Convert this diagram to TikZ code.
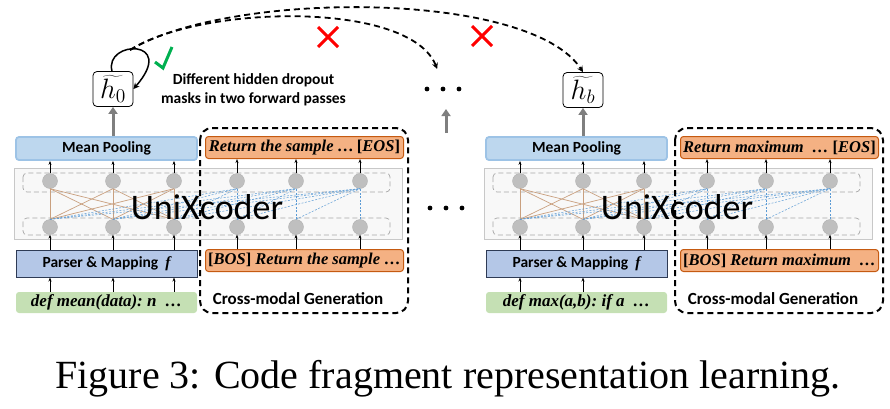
\documentclass[tikz,border=0pt]{standalone}
\usepackage{graphicx}
\usepackage{fontspec}
\setmainfont{Carlito}
\newfontfamily\capfont{Liberation Serif}
\newfontfamily\codefont{Liberation Serif}
\newcommand\tok[1]{{\upshape[}#1{\upshape]}}
\usetikzlibrary{arrows.meta,shapes.misc}
\definecolor{mpfill}{HTML}{BDD7EE}
\definecolor{mpline}{HTML}{9DC3E6}
\definecolor{orfill}{HTML}{F4B183}
\definecolor{orline}{HTML}{C55A11}
\definecolor{psfill}{HTML}{B4C7E7}
\definecolor{psline}{HTML}{2E3B55}
\definecolor{cdfill}{HTML}{C5E0B4}
\definecolor{encfill}{HTML}{F8F8F8}
\definecolor{encline}{HTML}{C8C8C8}
\definecolor{laygray}{HTML}{A6A6A6}
\definecolor{neufill}{HTML}{BFBFBF}
\definecolor{brownline}{HTML}{C9A07F}
\definecolor{blueline}{HTML}{5B9BD5}
\definecolor{poolgray}{HTML}{7F7F7F}
\definecolor{okgreen}{HTML}{00B050}
\begin{document}
\begin{tikzpicture}[x=1pt,y=-1pt,
  every node/.style={inner sep=0pt},
  tip/.style={-{Stealth[length=4pt,width=3pt]},line width=0.6pt},
  poolbox/.style={draw=mpline,fill=mpfill,line width=1.8pt,rounded corners=3pt,minimum width=181pt,minimum height=23pt,font=\fontsize{15.5}{18}\selectfont\bfseries},
  tokbox/.style={draw=orline,fill=orfill,line width=1pt,rounded corners=3pt,minimum width=198pt,minimum height=22pt,font=\codefont\fontsize{16.5}{18}\selectfont\bfseries\itshape},
  parsebox/.style={draw=psline,fill=psfill,line width=1pt,minimum width=181pt,minimum height=27pt,font=\fontsize{15.5}{18}\selectfont\bfseries},
  codebox/.style={fill=cdfill,rounded corners=3pt,minimum width=181pt,minimum height=21pt,font=\codefont\fontsize{17}{18}\selectfont\bfseries\itshape},
  encbox/.style={draw=encline,fill=encfill,line width=0.8pt,minimum width=388pt,minimum height=71pt},
  layerbox/.style={draw=laygray,rounded corners=4pt,line width=0.7pt,dash pattern=on 5pt off 3pt},
  neuron/.style={circle,fill=neufill,draw=neufill!90!black,line width=0.3pt,minimum size=15pt},
  attn/.style={draw=brownline,line width=0.7pt},
  causal/.style={draw=blueline,line width=0.5pt,dash pattern=on 2pt off 1.5pt},
  genframe/.style={line width=2pt,rounded corners=12pt,dash pattern=on 6pt off 4pt},
  hbox/.style={draw,line width=0.8pt,rounded corners=4pt,minimum width=40pt,minimum height=35pt,font=\fontsize{20.74}{24}\selectfont},
  poolarrow/.style={draw=poolgray,line width=3pt,-{Triangle[length=7pt,width=9pt]}},
  passarc/.style={line width=1.8pt,dash pattern=on 6pt off 4pt,-{Stealth[length=6pt,width=6pt]}},
  wrong/.style={cross out,draw=red,line width=3pt,minimum size=17pt},
  labeltext/.style={font=\fontsize{15.5}{19}\selectfont\bfseries}
]
\useasboundingbox (0,0) rectangle (890,408);
\def\unixblock#1#2#3#4#5#6#7{%
  \node[encbox] (enc#1) at (208+#2,203.5) {};
  \draw[layerbox] (23+#2,173) rectangle (390+#2,192);
  \draw[layerbox] (23+#2,218) rectangle (390+#2,235);
  \foreach \i/\x in {1/50,2/113,3/174,4/237,5/296,6/360} {
    \node[neuron] (t#1\i) at (\x+#2,181) {};
    \node[neuron] (b#1\i) at (\x+#2,227) {};
  }
  \foreach \i in {1,2,3}
    \foreach \j in {1,2,3}
      \draw[attn] (b#1\j.north) -- (t#1\i.south);
  \foreach \i in {4,5,6}
    \foreach \j in {1,...,\i}
      \draw[causal] (b#1\j.north) -- (t#1\i.south);
  \node[font=\fontsize{36}{42}\selectfont] (ux#1) at (207+#2,207) {UniXcoder};
  \node[poolbox] (mp#1) at (106.5+#2,148.5) {Mean Pooling};
  \node[parsebox] (ps#1) at (106.5+#2,263.5) {Parser \& Mapping\ \ {\codefont\itshape f}};
  \node[codebox] (cd#1) at (106.5+#2,302.5) {#4};
  \node[tokbox] (ot#1) at (304.5+#3,147.5) {#5};
  \node[tokbox] (ob#1) at (304.5+#3,260.5) {#6};
  \draw[genframe] (200+#3,128) rectangle (408+#3,313);
  \node[labeltext,font=\fontsize{17}{20}\selectfont\bfseries] (gen#1) at (298+#3,299) {Cross-modal Generation};
  \foreach \i in {#7}
    \draw[tip] (cd#1.north -| b#1\i) -- (ps#1.south -| b#1\i);
  \foreach \i in {1,2,3} {
    \draw[tip] (ps#1.north -| b#1\i) -- (b#1\i.south);
    \draw[tip] (t#1\i.north) -- (mp#1.south -| t#1\i);
  }
  \foreach \i in {4,5,6} {
    \draw[tip] (ob#1.north -| b#1\i) -- (b#1\i.south);
    \draw[tip] (t#1\i.north) -- (ot#1.south -| t#1\i);
  }
}
\unixblock{a}{0}{0}{def mean(data):\ n\ \ \ldots}{Return the sample \ldots\,\tok{EOS}}{\tok{BOS} Return the sample \ldots}{1,2,3}
\unixblock{b}{470}{475}{def max(a,b):\ if a\ \ \ldots}{Return maximum\ \ \ldots\ \tok{EOS}}{\tok{BOS} Return maximum\ \ \ldots}{1,2}

% representations
\node[hbox] (h0) at (113,89) {\scalebox{1.35}{$\widetilde{h_0}$}};
\node[hbox] (hb) at (583,90) {\scalebox{1.35}{$\widetilde{h_b}$}};
\draw[poolarrow] (mpa.north -| h0) -- (h0.south);
\draw[poolarrow] (mpb.north -| hb) -- (hb.south);
\node[minimum width=40pt,minimum height=10pt] (dtop) at (443,89) {};
\node[minimum width=40pt,minimum height=10pt] (dmid) at (446,208) {};
\foreach \n in {dtop,dmid}
  \foreach \k in {-16,0,16}
    \fill ([xshift=\k pt]\n.center) circle (2.4);
\coordinate (gtail) at (446,133);
\coordinate (ghead) at (446,109);
\draw[poolarrow] (gtail) -- (ghead);

% dropout loop and passes
\draw[line width=1.5pt,-{Stealth[length=6pt,width=6pt]}] ([xshift=-1pt]h0.north) .. controls (104,40) and (178,38) .. (h0.east);
\coordinate (lp) at (130,50);
\draw[passarc,shorten >=16pt] (lp) .. controls (200,5) and (410,0) .. (dtop.north);
\draw[passarc] (lp) .. controls (230,-10) and (530,-10) .. (hb.north);
\draw[draw=okgreen,line width=3pt] (155,62) -- (163,68) -- (172,47);
\node[wrong] (xa) at (328,37) {};
\node[wrong] (xb) at (482,36) {};
\node[labeltext,align=center] (note) at (253.5,89.5) {Different hidden dropout\\masks in two forward passes};

\node[font=\capfont\fontsize{40}{48}\selectfont,anchor=base] (cap) at (448,388) {Figure 3: Code fragment representation learning.};
\end{tikzpicture}
\end{document}
